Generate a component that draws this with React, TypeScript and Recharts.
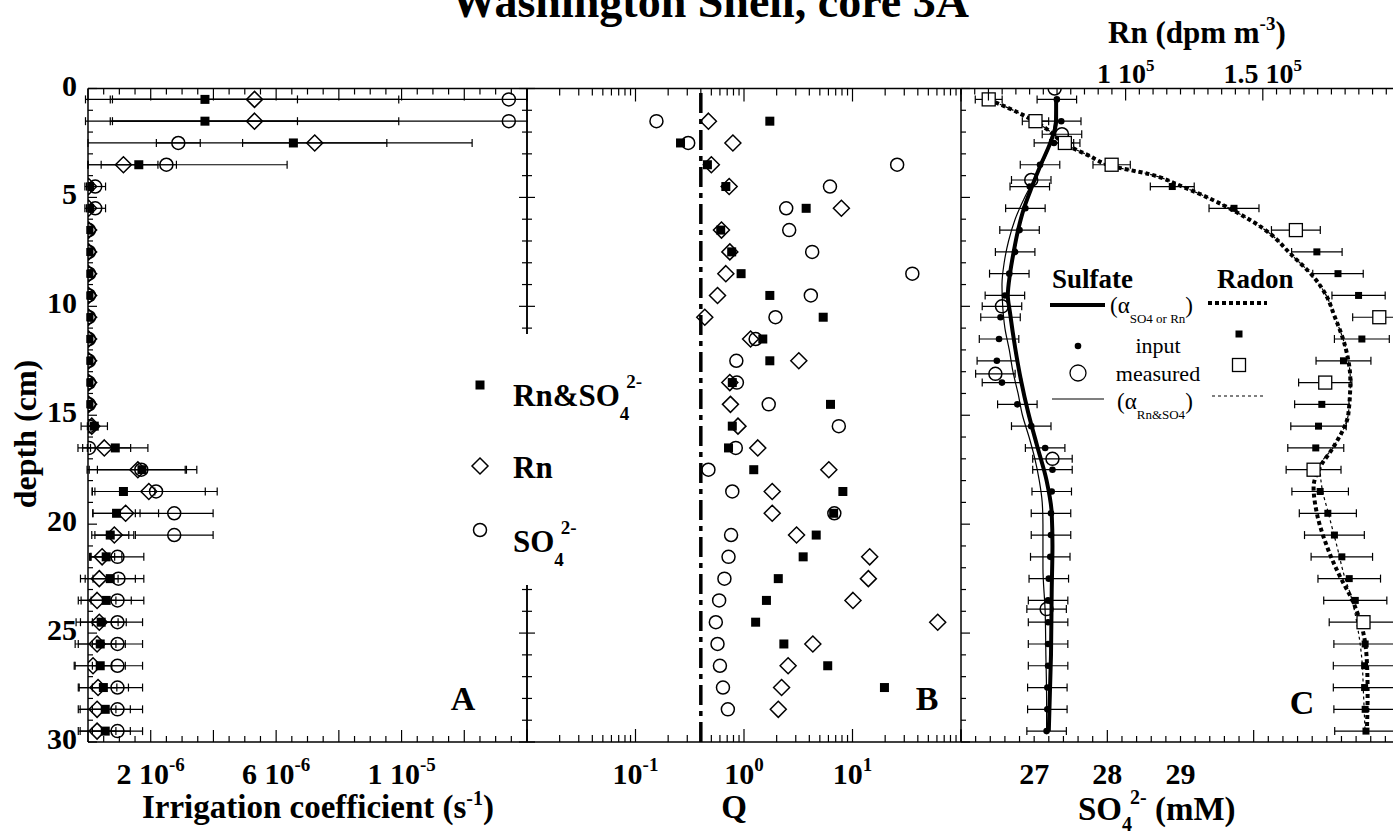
import React from "react";
import { ScatterChart, Scatter, XAxis, YAxis, ErrorBar, ReferenceLine } from "recharts";

const FONT = "'Liberation Serif', 'Times New Roman', Times, serif";
const W = 1393;
const H = 834;
const PLOT_TOP = 88.5;
const PLOT_BOTTOM = 742;
const AX = 30;

// depth levels (cm)
const depthA = [0.5, 1.5, 2.5, 3.5, 4.5, 5.5, 6.5, 7.5, 8.5, 9.5, 10.5, 11.5, 12.5, 13.5, 14.5, 15.5, 16.5, 17.5, 18.5, 19.5, 20.5, 21.5, 22.5, 23.5, 24.5, 25.5, 26.5, 27.5, 28.5, 29.5];

// panel A: irrigation coefficient, in 1e-6 s^-1
const alphaBoth = [3.73, 3.73, 6.55, 1.62, 0.05, 0.05, 0.03, 0.03, 0.03, 0.03, 0.03, 0.03, 0.03, 0.03, 0.03, 0.2, 0.87, 1.72, 1.13, 0.91, 0.71, 0.58, 0.71, 0.58, 0.42, 0.39, 0.39, 0.49, 0.55, 0.55];
const alphaBothErr: (number | number[])[] = [2.95, 2.95, [6.55, 5.7], 1.2, 0.1, 0.1, 0.05, 0.05, 0.05, 0.05, 0.05, 0.05, 0.05, 0.05, 0.05, 0.42, 1.04, 1.75, 1.0, 0.75, 0.59, 0.5, 0.8, 0.8, 0.8, 0.8, 0.8, 0.8, 0.8, 0.8];
const alphaRn = [5.31, 5.31, 7.23, 1.13, 0.02, 0.02, 0.02, 0.02, 0.02, 0.02, 0.02, 0.02, 0.02, 0.02, 0.02, 0.12, 0.52, 1.59, 1.94, 1.2, 0.84, 0.45, 0.36, 0.29, 0.36, 0.29, 0.16, 0.32, 0.29, 0.29];
const alphaRnErr: (number | number[])[] = [4.6, 4.6, 2.3, [1.13, 1.1], 0.05, 0.05, 0.05, 0.05, 0.05, 0.05, 0.05, 0.05, 0.05, 0.05, 0.05, 0.1, 0.84, 1.55, 1.8, 1.05, 0.62, 0.4, 0.6, 0.6, 0.6, 0.6, 0.6, 0.6, 0.6, 0.6];
const alphaSO4 = [13.42, 13.42, 2.88, 2.5, 0.23, 0.23, 0.03, 0.03, 0.03, 0.03, 0.03, 0.03, 0.03, 0.03, 0.03, 0.03, 0.03, 1.7, 2.17, 2.75, 2.75, 0.94, 0.97, 0.94, 0.94, 0.94, 0.94, 0.94, 0.94, 0.94];
const alphaSO4Err: (number | number[])[] = [13.5, 13.5, 0.7, [2.5, 3.85], 0.33, 0.33, 0.05, 0.05, 0.05, 0.05, 0.05, 0.05, 0.05, 0.05, 0.05, 0.05, 0.05, 1.4, 1.95, 1.24, 1.24, 0.84, 0.81, 0.84, 0.8, 0.8, 0.8, 0.8, 0.8, 0.8];

// panel B: Q
const depthB = [1.5, 2.5, 3.5, 4.5, 5.5, 6.5, 7.5, 8.5, 9.5, 10.5, 11.5, 12.5, 13.5, 14.5, 15.5, 16.5, 17.5, 18.5, 19.5, 20.5, 21.5, 22.5, 23.5, 24.5, 25.5, 26.5, 27.5, 28.5];
const qBoth: (number | null)[] = [1.73, 0.26, 0.46, 0.68, 3.74, 0.61, 0.77, 0.94, 1.73, 5.37, 1.49, 1.73, 0.78, 6.27, 0.78, 0.72, 1.23, 8.15, 6.7, 4.63, 3.51, 2.07, 1.61, 1.28, 2.33, 5.91, 19.7, null];
const qRn = [0.47, 0.79, 0.5, 0.73, 7.9, 0.62, 0.74, 0.68, 0.57, 0.435, 1.15, 3.2, 0.74, 0.75, 0.88, 1.34, 6.05, 1.82, 1.82, 3.05, 14.4, 14.0, 10.1, 61, 4.31, 2.55, 2.22, 2.07];
const qSO4 = [0.156, 0.306, 25.8, 6.2, 2.45, 2.61, 4.25, 35.6, 4.13, 1.95, 1.28, 0.85, 0.86, 1.69, 7.48, 0.84, 0.47, 0.78, 6.8, 0.76, 0.72, 0.66, 0.59, 0.55, 0.57, 0.6, 0.64, 0.71];
const qCutoff = 0.4;

// panel C: sulfate (mM)
const so4Input = [27.31, 27.37, 27.27, 27.08, 26.94, 26.88, 26.8, 26.74, 26.66, 26.6, 26.54, 26.52, 26.49, 26.56, 26.77, 26.96, 27.15, 27.25, 27.24, 27.23, 27.23, 27.22, 27.2, 27.19, 27.19, 27.19, 27.19, 27.18, 27.18, 27.17];
const so4InputErr = 0.27;
const so4MeasDepth = [0, 2.1, 4.2, 10.0, 13.1, 17.0, 23.9];
const so4Meas = [27.28, 27.38, 26.96, 26.56, 26.47, 27.25, 27.17];
const so4MeasErr: (number | null)[] = [null, 0.27, 0.27, 0.27, 0.27, 0.27, 0.27];
const so4FitDepth = [0.5, 1.5, 2.5, 3.5, 4.5, 5.5, 6.5, 7.5, 8.5, 9.5, 10.3, 11.9, 13.4, 14.9, 16.4, 18.0, 19.5, 21.0, 23.0, 26.0, 29.5];
const so4Fit = [27.3, 27.3, 27.22, 27.09, 26.97, 26.86, 26.78, 26.72, 26.67, 26.64, 26.67, 26.74, 26.82, 26.92, 27.04, 27.17, 27.24, 27.25, 27.24, 27.23, 27.2];
const so4JointDepth = [0.5, 2, 3, 4, 5, 6, 7, 8, 9, 10, 11, 12, 13, 14, 15, 16, 17, 18, 19, 20, 22, 24, 26, 28, 29.5];
const so4Joint = [27.3, 27.26, 27.17, 27.03, 26.87, 26.74, 26.65, 26.59, 26.56, 26.57, 26.6, 26.66, 26.71, 26.78, 26.84, 26.93, 27.01, 27.07, 27.11, 27.12, 27.12, 27.15, 27.16, 27.17, 27.17];

// panel C: radon (dpm m^-3)
const rnInputDepth = [4.5, 5.5, 7.5, 8.5, 9.5, 11.5, 12.5, 14.5, 15.5, 16.5, 18.5, 19.5, 20.5, 21.5, 22.5, 23.5, 25.5, 26.5, 27.5, 28.5, 29.5];
const rnInput = [117000, 139500, 169700, 177400, 184900, 186100, 179400, 171500, 170300, 169300, 170900, 173700, 176100, 178800, 181500, 183700, 187300, 187100, 187100, 187300, 187600];
const rnInputErr = [8000, 9100, 9200, 9200, 9700, 10000, 10000, 9900, 10100, 10200, 10300, 10400, 10900, 11200, 11400, 11500, 11400, 11400, 11400, 11400, 11400];
const rnMeasDepth = [0.5, 1.5, 2.5, 3.5, 6.5, 10.5, 13.5, 17.5, 24.5];
const rnMeas = [50100, 67150, 77850, 94900, 162050, 192450, 172750, 168500, 186700];
const rnMeasErr = [4900, 4800, 5500, 6800, 8900, 9700, 9700, 10000, 12500];
const rnFitDepth = [0.5, 1.3, 1.85, 2.54, 3.07, 3.56, 3.94, 4.52, 5.6, 6.67, 7.58, 8.65, 9.57, 10.34, 11.87, 13.39, 14.92, 16.45, 17.37, 18.29, 19.5, 21.03, 22.57, 23.2, 24.71, 26.24, 27.77, 29.6];
const rnFit = [50100, 63850, 71150, 77850, 86400, 94900, 108900, 121000, 139300, 152700, 160000, 168500, 173400, 175800, 180100, 181900, 181200, 175800, 170900, 168500, 169700, 173400, 178800, 181500, 186100, 187900, 188200, 187900];
const rnJointDepth = [0.5, 1.3, 1.85, 2.54, 3.07, 3.56, 3.94, 4.52, 5.6, 6.67, 7.58, 8.65, 9.57, 10.34, 11.87, 13.39, 14.92, 16.45, 17.37, 18.29, 19.5, 21.0, 22.5, 23.2, 24.7, 26.2, 27.8, 29.6];
const rnJoint = [50100, 63850, 71150, 77850, 86400, 94900, 108900, 121000, 139300, 152700, 160000, 168500, 173400, 175800, 180100, 181900, 181200, 175800, 170900, 171500, 173900, 177000, 180000, 181900, 184500, 186100, 186700, 187300];

// tick labels
const depthLabels = [0, 5, 10, 15, 20, 25, 30];
const irrLabels = [
  { v: 2, m: "2", e: "-6" },
  { v: 6, m: "6", e: "-6" },
  { v: 10, m: "1", e: "-5" },
];
const qLabels = [
  { v: 0.1, e: "-1" },
  { v: 1, e: "0" },
  { v: 10, e: "1" },
];
const so4Labels = [27, 28, 29];
const rnLabels = [
  { v: 100000, m: "1" },
  { v: 150000, m: "1.5" },
];

const range = (a: number, b: number, step: number) => {
  const out: number[] = [];
  const n = Math.round((b - a) / step);
  for (let i = 0; i <= n; i++) out.push(Math.round((a + i * step) * 1e6) / 1e6);
  return out;
};
const near = (a: number, b: number) => Math.abs(a - b) < 1e-6;

const depthTicks = range(0, 30, 1);
const irrTicks = range(0, 14, 0.5);
const qTicks = [0.01, 0.1, 1, 10].flatMap((d) => [1, 2, 3, 4, 5, 6, 7, 8, 9].map((k) => Math.round(d * k * 1e6) / 1e6)).concat([100]);
const so4Ticks = range(26, 32, 0.2);
const rnTicks = range(40000, 200000, 5000);

type Side = "left" | "right" | "top" | "bottom";

function makeTick(
  side: Side,
  isMajor: (v: number) => boolean,
  majorLen: number,
  minorLen: number,
  label?: (v: number) => React.ReactNode,
  size = 30,
  gap = 42
) {
  return (props: any) => {
    const { x, y, payload } = props;
    const v = payload.value as number;
    const len = isMajor(v) ? majorLen : minorLen;
    const content = label ? label(v) : null;
    let ln: React.ReactNode;
    let t: React.ReactNode = null;
    const tp = { fontFamily: FONT, fontWeight: 700, fontSize: size, fill: "#000" };
    if (side === "left") {
      ln = <line x1={x} y1={y} x2={x + len} y2={y} />;
      if (content != null) t = <text x={x - 11} y={y + 7} textAnchor="end" {...tp}>{content}</text>;
    } else if (side === "right") {
      ln = <line x1={x} y1={y} x2={x - len} y2={y} />;
    } else if (side === "top") {
      ln = <line x1={x} y1={y} x2={x} y2={y + len} />;
      if (content != null) t = <text x={x} y={y - gap} textAnchor="middle" {...tp}>{content}</text>;
    } else {
      ln = <line x1={x} y1={y} x2={x} y2={y - len} />;
      if (content != null) t = <text x={x} y={y + gap} textAnchor="middle" {...tp}>{content}</text>;
    }
    return (
      <g>
        <g stroke="#000" strokeWidth={1.2}>{ln}</g>
        {t}
      </g>
    );
  };
}

const depthMajor = (v: number) => near(v % 5, 0);
const depthLabel = (v: number) => (depthLabels.some((d) => near(d, v)) ? String(v) : null);
const irrMajor = (v: number) => near(v % 2, 0);
const irrLabel = (v: number) => {
  const l = irrLabels.find((t) => near(t.v, v));
  return l ? (<>{l.m} 10<tspan dy={-13} fontSize={19}>{l.e}</tspan></>) : null;
};
const qMajor = (v: number) => near(Math.log10(v), Math.round(Math.log10(v)));
const qLabel = (v: number) => {
  const l = qLabels.find((t) => near(t.v, v));
  return l ? (<>10<tspan dy={-13} fontSize={19}>{l.e}</tspan></>) : null;
};
const so4Major = (v: number) => near(Math.round(v) % 2, 0) && near(v, Math.round(v));
const so4Label = (v: number) => (so4Labels.some((s) => near(s, v)) ? String(v) : null);
const rnMajor = (v: number) => v % 50000 === 0;
const rnLabel = (v: number) => {
  const l = rnLabels.find((t) => t.v === v);
  return l ? (<>{l.m} 10<tspan dy={-12} fontSize={17}>5</tspan></>) : null;
};

const axisLine = { stroke: "#000", strokeWidth: 1.5 };
const common = { tickSize: 0, tickMargin: 0, tickLine: false, interval: 0 as const, allowDataOverflow: true, axisLine };

// markers
const Square = (p: any) => <rect x={p.cx - 4.5} y={p.cy - 4.5} width={9} height={9} fill="#000" />;
const Diamond = (p: any) => (
  <path d={`M${p.cx},${p.cy - 8}L${p.cx + 8},${p.cy}L${p.cx},${p.cy + 8}L${p.cx - 8},${p.cy}Z`} fill="none" stroke="#000" strokeWidth={1.5} />
);
const Ring = (p: any) => <circle cx={p.cx} cy={p.cy} r={6.5} fill="none" stroke="#000" strokeWidth={1.5} />;
const Dot = (p: any) => <circle cx={p.cx} cy={p.cy} r={3.3} fill="#000" />;
const SmallSquare = (p: any) => <rect x={p.cx - 3.5} y={p.cy - 3.5} width={7} height={7} fill="#000" />;
const OpenSquare = (p: any) => <rect x={p.cx - 6.5} y={p.cy - 6.5} width={13} height={13} fill="#fff" stroke="#000" strokeWidth={1.3} />;
const NoMark = () => <g />;

const pts = (ys: number[], xs: (number | null)[], errs?: any) =>
  ys
    .map((y, i) => ({ y, x: xs[i], e: Array.isArray(errs) ? errs[i] : errs }))
    .filter((p) => p.x != null);

function PanelA() {
  return (
    <ScatterChart width={W} height={H} margin={{ top: PLOT_TOP - AX, bottom: H - PLOT_BOTTOM - AX, left: 88 - AX, right: W - 527 - AX }}>
      <XAxis xAxisId="b" type="number" dataKey="x" domain={[0, 14]} ticks={irrTicks} height={AX} orientation="bottom" {...common}
        tick={makeTick("bottom", irrMajor, 12, 6, irrLabel)} />
      <XAxis xAxisId="t" type="number" dataKey="x" domain={[0, 14]} ticks={irrTicks} height={AX} orientation="top" {...common}
        tick={makeTick("top", irrMajor, 12, 6)} />
      <YAxis yAxisId="l" type="number" dataKey="y" domain={[0, 30]} reversed ticks={depthTicks} width={AX} {...common}
        tick={makeTick("left", depthMajor, 9, 5, depthLabel)} />
      <YAxis yAxisId="r" type="number" dataKey="y" domain={[0, 30]} reversed ticks={depthTicks} width={AX} orientation="right" {...common}
        tick={makeTick("right", depthMajor, 8, 5)} />
      <Scatter xAxisId="b" yAxisId="l" data={pts(depthA, alphaSO4, alphaSO4Err)} shape={Ring} isAnimationActive={false}>
        <ErrorBar dataKey="e" direction="x" width={4} stroke="#000" strokeWidth={1.2} />
      </Scatter>
      <Scatter xAxisId="b" yAxisId="l" data={pts(depthA, alphaRn, alphaRnErr)} shape={Diamond} isAnimationActive={false}>
        <ErrorBar dataKey="e" direction="x" width={4} stroke="#000" strokeWidth={1.2} />
      </Scatter>
      <Scatter xAxisId="b" yAxisId="l" data={pts(depthA, alphaBoth, alphaBothErr)} shape={Square} isAnimationActive={false}>
        <ErrorBar dataKey="e" direction="x" width={4} stroke="#000" strokeWidth={1.2} />
      </Scatter>
    </ScatterChart>
  );
}

function PanelB() {
  return (
    <ScatterChart width={W} height={H} margin={{ top: PLOT_TOP - AX, bottom: H - PLOT_BOTTOM - AX, left: 527 - AX, right: W - 961 }}>
      <XAxis xAxisId="b" type="number" dataKey="x" scale="log" domain={[0.01, 100]} ticks={qTicks} height={AX} orientation="bottom" {...common}
        tick={makeTick("bottom", qMajor, 13, 7, qLabel)} />
      <XAxis xAxisId="t" type="number" dataKey="x" scale="log" domain={[0.01, 100]} ticks={qTicks} height={AX} orientation="top" {...common}
        tick={makeTick("top", qMajor, 13, 7)} />
      <YAxis yAxisId="l" type="number" dataKey="y" domain={[0, 30]} reversed ticks={depthTicks} width={AX} {...common}
        tick={makeTick("left", depthMajor, 8, 5)} />
      <ReferenceLine xAxisId="b" yAxisId="l" x={qCutoff} stroke="#000" strokeWidth={3.5} strokeDasharray="20 6 5 6" />
      <Scatter xAxisId="b" yAxisId="l" data={pts(depthB, qSO4)} shape={Ring} isAnimationActive={false} />
      <Scatter xAxisId="b" yAxisId="l" data={pts(depthB, qRn)} shape={Diamond} isAnimationActive={false} />
      <Scatter xAxisId="b" yAxisId="l" data={pts(depthB, qBoth)} shape={Square} isAnimationActive={false} />
    </ScatterChart>
  );
}

const CW = 1420;
function PanelC() {
  return (
    <ScatterChart width={CW} height={H} margin={{ top: PLOT_TOP - AX, bottom: H - PLOT_BOTTOM - AX, left: 961 - AX, right: CW - 1400 }}>
      <XAxis xAxisId="so4" type="number" dataKey="x" domain={[26, 32]} ticks={so4Ticks} height={AX} orientation="bottom" {...common}
        tick={makeTick("bottom", so4Major, 12, 6, so4Label)} />
      <XAxis xAxisId="rn" type="number" dataKey="x" domain={[40000, 200000]} ticks={rnTicks} height={AX} orientation="top" {...common}
        tick={makeTick("top", rnMajor, 12, 6, rnLabel, 28, 6)} />
      <YAxis yAxisId="l" type="number" dataKey="y" domain={[0, 30]} reversed ticks={depthTicks} width={AX} {...common}
        tick={makeTick("left", depthMajor, 9, 5)} />
      <Scatter xAxisId="so4" yAxisId="l" data={pts(so4JointDepth, so4Joint)} shape={NoMark} line={{ stroke: "#000", strokeWidth: 1.2 }} lineJointType="monotoneY" isAnimationActive={false} />
      <Scatter xAxisId="so4" yAxisId="l" data={pts(so4FitDepth, so4Fit)} shape={NoMark} line={{ stroke: "#000", strokeWidth: 4 }} lineJointType="monotoneY" isAnimationActive={false} />
      <Scatter xAxisId="rn" yAxisId="l" data={pts(rnJointDepth, rnJoint)} shape={NoMark} line={{ stroke: "#000", strokeWidth: 1.2, strokeDasharray: "3 3" }} lineJointType="monotoneY" isAnimationActive={false} />
      <Scatter xAxisId="rn" yAxisId="l" data={pts(rnFitDepth, rnFit)} shape={NoMark} line={{ stroke: "#000", strokeWidth: 4, strokeDasharray: "4 3" }} lineJointType="monotoneY" isAnimationActive={false} />
      <Scatter xAxisId="so4" yAxisId="l" data={pts(depthA, so4Input, so4InputErr)} shape={Dot} isAnimationActive={false}>
        <ErrorBar dataKey="e" direction="x" width={4} stroke="#000" strokeWidth={1.2} />
      </Scatter>
      <Scatter xAxisId="so4" yAxisId="l" data={pts(so4MeasDepth, so4Meas, so4MeasErr)} shape={Ring} isAnimationActive={false}>
        <ErrorBar dataKey="e" direction="x" width={4} stroke="#000" strokeWidth={1.2} />
      </Scatter>
      <Scatter xAxisId="rn" yAxisId="l" data={pts(rnInputDepth, rnInput, rnInputErr)} shape={SmallSquare} isAnimationActive={false}>
        <ErrorBar dataKey="e" direction="x" width={4} stroke="#000" strokeWidth={1.2} />
      </Scatter>
      <Scatter xAxisId="rn" yAxisId="l" data={pts(rnMeasDepth, rnMeas, rnMeasErr)} shape={OpenSquare} isAnimationActive={false}>
        <ErrorBar dataKey="e" direction="x" width={4} stroke="#000" strokeWidth={1.2} />
      </Scatter>
    </ScatterChart>
  );
}

function Overlay() {
  const b = { fontFamily: FONT, fontWeight: 700, fill: "#000" };
  const r = { fontFamily: FONT, fontWeight: 400, fill: "#000" };
  return (
    <svg width={W} height={H} style={{ position: "absolute", left: 0, top: 0 }}>
      <text x={710} y={17} textAnchor="middle" fontSize={46} {...b}>Washington Shell, core 3A</text>
      <text transform="translate(36,434) rotate(-90)" textAnchor="middle" fontSize={32} {...b}>depth (cm)</text>
      <text x={318} y={818} textAnchor="middle" fontSize={33} {...b}>
        Irrigation coefficient (s<tspan dy={-13} fontSize={20}>-1</tspan><tspan dy={13}>)</tspan>
      </text>
      <text x={734} y={818} textAnchor="middle" fontSize={33} {...b}>Q</text>
      <text x={1078} y={820} fontSize={33} {...b}>
        SO<tspan dy={11} fontSize={20}>4</tspan><tspan dx={-2} dy={-27} fontSize={20}>2-</tspan><tspan dy={16}> (mM)</tspan>
      </text>
      <text x={1108} y={43} fontSize={31} {...b}>
        Rn (dpm m<tspan dy={-13} fontSize={19}>-3</tspan><tspan dy={13}>)</tspan>
      </text>
      <text x={463} y={710} textAnchor="middle" fontSize={34} {...b}>A</text>
      <text x={927} y={710} textAnchor="middle" fontSize={34} {...b}>B</text>
      <text x={1302} y={714} textAnchor="middle" fontSize={34} {...b}>C</text>

      {/* legend A/B */}
      <rect x={462} y={334} width={208} height={251} fill="#fff" />
      <rect x={475.5} y={380.5} width={9} height={9} fill="#000" />
      <text x={513} y={406} fontSize={31} {...b}>
        Rn&amp;SO<tspan dy={14} fontSize={19}>4</tspan><tspan dx={-3} dy={-32} fontSize={19}>2-</tspan>
      </text>
      <path d="M480,458L488,466L480,474L472,466Z" fill="none" stroke="#000" strokeWidth={1.5} />
      <text x={513} y={478} fontSize={31} {...b}>Rn</text>
      <circle cx={480} cy={530} r={6.5} fill="none" stroke="#000" strokeWidth={1.5} />
      <text x={513} y={552} fontSize={31} {...b}>
        SO<tspan dy={14} fontSize={19}>4</tspan><tspan dx={-3} dy={-32} fontSize={19}>2-</tspan>
      </text>

      {/* legend C */}
      <text x={1052} y={288} fontSize={27} {...b}>Sulfate</text>
      <text x={1217} y={288} fontSize={27} {...b}>Radon</text>
      <line x1={1050} x2={1105} y1={305} y2={305} stroke="#000" strokeWidth={4} />
      <text x={1110} y={313} fontSize={23} {...r}>
        (α<tspan dy={10} fontSize={13}>SO4 or Rn</tspan><tspan dy={-10}>)</tspan>
      </text>
      <line x1={1208} x2={1267} y1={303} y2={303} stroke="#000" strokeWidth={4} strokeDasharray="4 3" />
      <circle cx={1078} cy={346} r={3.3} fill="#000" />
      <text x={1158} y={353} textAnchor="middle" fontSize={22} {...r}>input</text>
      <rect x={1235.5} y={330.5} width={7} height={7} fill="#000" />
      <circle cx={1078} cy={373} r={8} fill="none" stroke="#000" strokeWidth={1.3} />
      <text x={1158} y={381} textAnchor="middle" fontSize={22} {...r}>measured</text>
      <rect x={1232.5} y={358.5} width={13} height={13} fill="#fff" stroke="#000" strokeWidth={1.3} />
      <line x1={1052} x2={1104} y1={399} y2={399} stroke="#000" strokeWidth={1.2} />
      <text x={1117} y={409} fontSize={23} {...r}>
        (α<tspan dy={10} fontSize={13}>Rn&amp;SO4</tspan><tspan dy={-10}>)</tspan>
      </text>
      <line x1={1212} x2={1265} y1={396} y2={396} stroke="#000" strokeWidth={1.2} strokeDasharray="3 3" />
    </svg>
  );
}

export default function App() {
  return (
    <div style={{ position: "absolute", left: 0, top: 0, width: W, height: H, overflow: "hidden", background: "#fff" }}>
      <div style={{ position: "absolute", left: 0, top: 0, width: 528, height: H, overflow: "hidden" }}><PanelA /></div>
      <div style={{ position: "absolute", left: 0, top: 0 }}><PanelB /></div>
      <div style={{ position: "absolute", left: 0, top: 0 }}><PanelC /></div>
      <Overlay />
    </div>
  );
}
